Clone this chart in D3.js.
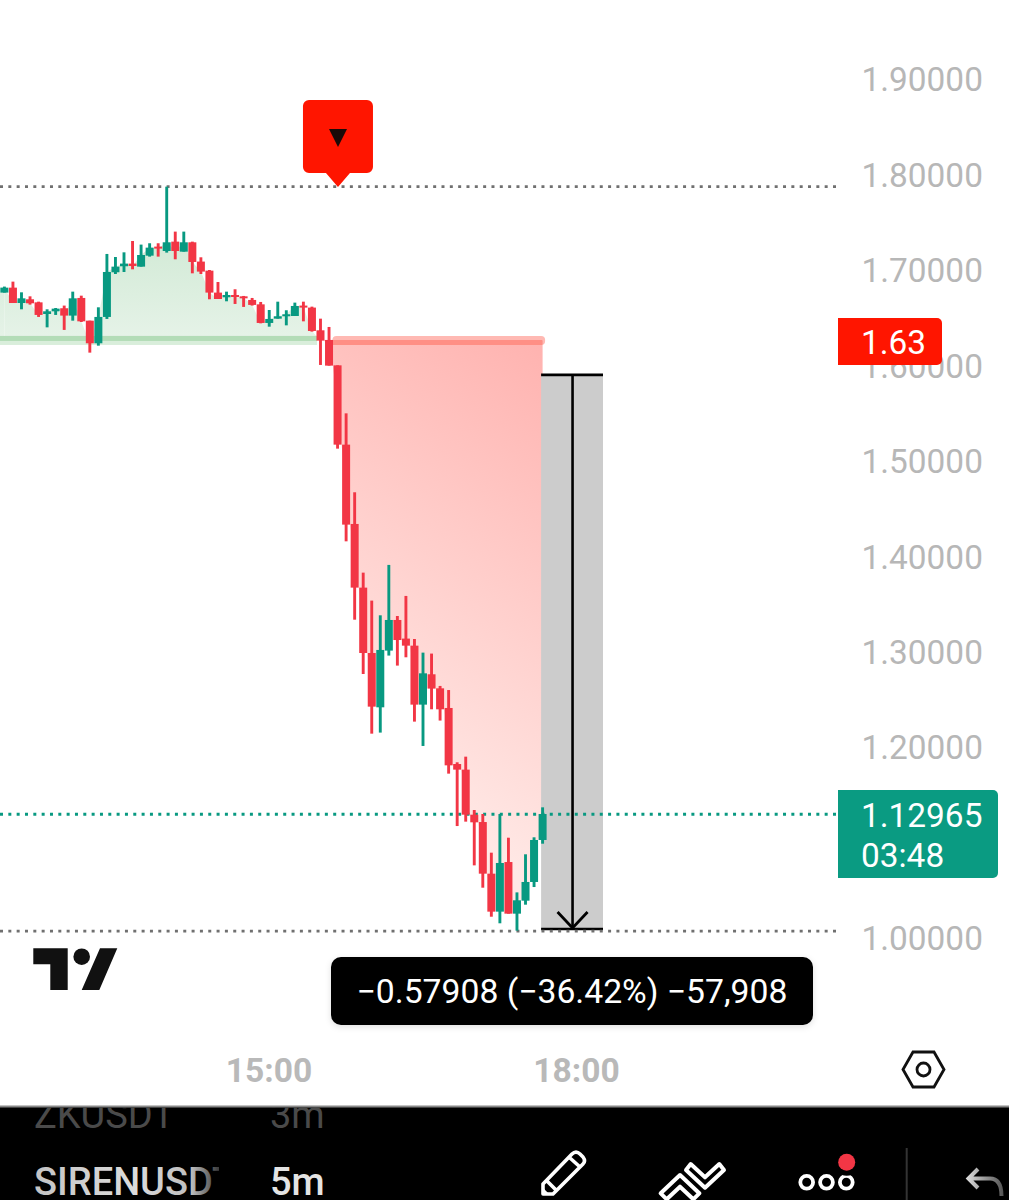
<!DOCTYPE html>
<html><head><meta charset="utf-8">
<script src="https://cdn.jsdelivr.net/npm/d3@7/dist/d3.min.js"></script>
<style>html,body{margin:0;padding:0;background:#fff}svg{display:block}text{font-family:Roboto,sans-serif}</style>
</head><body><svg id="c" width="1009" height="1200"></svg>
<script>
const opens=[1.6762,1.6814,1.6653,1.6692,1.6660,1.6538,1.6566,1.6598,1.6521,1.6706,1.6468,1.6231,1.6507,1.6975,1.7038,1.7066,1.7034,1.7149,1.7244,1.7198,1.7296,1.7191,1.7289,1.7087,1.6992,1.6762,1.6713,1.6737,1.6723,1.6685,1.6639,1.6444,1.6489,1.6514,1.6517,1.6626,1.6605,1.6367,1.6266,1.6000,1.5169,1.4338,1.3671,1.2986,1.2417,1.3011,1.3332,1.3137,1.3063,1.2445,1.2763,1.2616,1.2410,1.1823,1.1764,1.1292,1.1215,1.0674,1.0276,1.0796,1.0255,1.0391,1.0587,1.1027];
const highs=[1.6825,1.6877,1.6765,1.6723,1.6667,1.6587,1.6601,1.6626,1.6772,1.6730,1.6468,1.6608,1.7167,1.7135,1.7184,1.7303,1.7265,1.7279,1.7279,1.7872,1.7401,1.7401,1.7296,1.7132,1.6999,1.6873,1.6772,1.6797,1.6727,1.6706,1.6664,1.6580,1.6667,1.6577,1.6657,1.6667,1.6615,1.6489,1.6402,1.6000,1.5497,1.4670,1.3828,1.3535,1.3381,1.3909,1.3374,1.3584,1.3133,1.2990,1.2980,1.2641,1.2598,1.1841,1.1900,1.1341,1.1299,1.0894,1.1299,1.1051,1.0478,1.0877,1.1055,1.1369];
const lows=[1.6762,1.6653,1.6587,1.6636,1.6507,1.6398,1.6528,1.6371,1.6468,1.6454,1.6133,1.6206,1.6486,1.6957,1.6978,1.7006,1.7034,1.7139,1.7139,1.7181,1.7111,1.7191,1.6964,1.6957,1.6692,1.6695,1.6671,1.6643,1.6612,1.6626,1.6440,1.6405,1.6489,1.6419,1.6517,1.6461,1.6353,1.6004,1.5997,1.5127,1.4156,1.3335,1.2766,1.2141,1.2152,1.2959,1.2854,1.2941,1.2267,1.2012,1.2396,1.2278,1.1722,1.1173,1.1219,1.0761,1.0527,1.0223,1.0154,1.0255,1.0077,1.0349,1.0534,1.0988];
const closes=[1.6814,1.6653,1.6702,1.6650,1.6528,1.6566,1.6594,1.6521,1.6702,1.6461,1.6231,1.6507,1.6978,1.7034,1.7066,1.7041,1.7156,1.7233,1.7223,1.7289,1.7198,1.7289,1.7083,1.6982,1.6762,1.6695,1.6737,1.6716,1.6709,1.6633,1.6444,1.6486,1.6514,1.6535,1.6622,1.6612,1.6360,1.6259,1.5997,1.5169,1.4331,1.3671,1.2986,1.2424,1.3018,1.3332,1.3122,1.3063,1.2445,1.2773,1.2613,1.2396,1.1809,1.1764,1.1292,1.1212,1.0674,1.0276,1.0786,1.0255,1.0395,1.0587,1.1027,1.1299];
const priceTicks=[1.0,1.1,1.2,1.3,1.4,1.5,1.6,1.7,1.8,1.9];
const timeTickBars=[31,67];
const timeTickLabels=["15:00","18:00"];
const baselinePrice=1.6266;
const sessionHigh=1.7872, sessionLow=1.0073, lastPrice=1.12965;
const measureFrom=1.59, measureTo=1.0095;
const signalBar=39;
const signalLabel="1.63";
const countdown="03:48";
const measureText="\u22120.57908 (\u221236.42%) \u221257,908";

const RED="#f23645",GREEN="#089981";
const FS=33.4;
const svg=d3.select("#c");
const x=d3.scaleLinear().domain([0,63]).range([4.4,542.6]);
const y=d3.scaleLinear().domain([1,1.9]).range([938,79]);
const idx=d3.range(closes.length);
const by=y(baselinePrice);
const lastX=x(63);

const defs=svg.append("defs");
const gr=defs.append("linearGradient").attr("id","redFill").attr("gradientUnits","userSpaceOnUse")
  .attr("x1",590).attr("y1",340).attr("x2",310).attr("y2",720);
gr.append("stop").attr("offset",0).attr("stop-color","#ffafac");
gr.append("stop").attr("offset",1).attr("stop-color","#ffe8e5");
const gg=defs.append("linearGradient").attr("id","greenFill").attr("gradientUnits","userSpaceOnUse")
  .attr("x1",0).attr("y1",240).attr("x2",0).attr("y2",340);
gg.append("stop").attr("offset",0).attr("stop-color","#d2ead6");
gg.append("stop").attr("offset",1).attr("stop-color","#e6f3e8");
defs.append("clipPath").attr("id","above").append("rect").attr("x",0).attr("y",0).attr("width",1009).attr("height",by);
defs.append("clipPath").attr("id","below").append("rect").attr("x",0).attr("y",by).attr("width",lastX).attr("height",800);
defs.append("clipPath").attr("id","bar").append("rect").attr("x",0).attr("y",1107).attr("width",1009).attr("height",93);
const fd=defs.append("linearGradient").attr("id","fade").attr("gradientUnits","userSpaceOnUse").attr("x1",35).attr("x2",219).attr("y1",0).attr("y2",0);
fd.append("stop").attr("offset",0).attr("stop-color","#c4c4c4");
fd.append("stop").attr("offset",0.55).attr("stop-color","#dcdcdc");
fd.append("stop").attr("offset",0.85).attr("stop-color","#bdbdbd");
fd.append("stop").attr("offset",1).attr("stop-color","#3a3a3a");
const un=defs.append("linearGradient").attr("id","undo").attr("gradientUnits","userSpaceOnUse").attr("x1",968).attr("x2",1003).attr("y1",0).attr("y2",0);
un.append("stop").attr("offset",0).attr("stop-color","#d8d8d8");
un.append("stop").attr("offset",1).attr("stop-color","#555");
const ds=defs.append("filter").attr("id","sh").attr("x","-5%").attr("y","-20%").attr("width","110%").attr("height","150%");
ds.append("feDropShadow").attr("dx",0).attr("dy",2).attr("stdDeviation",3).attr("flood-color","#000").attr("flood-opacity",0.12);

const area=d3.area().x(i=>x(i)).y0(by).y1(i=>y(closes[i])).curve(d3.curveLinear);
const areaRed=d3.area().x(i=>x(i)+4).y0(by).y1(i=>y(closes[i])).curve(d3.curveLinear);
svg.append("path").attr("d",area(idx)).attr("fill","url(#greenFill)").attr("clip-path","url(#above)");
svg.append("rect").attr("x",0).attr("width",x(0)).attr("y",y(closes[0])).attr("height",by-y(closes[0])).attr("fill","url(#greenFill)");
svg.append("path").attr("d",areaRed(idx)).attr("fill","url(#redFill)").attr("clip-path","url(#below)");
// baseline
const gEnd=x(36.6), rStart=x(38.4);
svg.append("rect").attr("x",0).attr("y",by-4).attr("width",gEnd).attr("height",9).attr("fill","#d9eedb");
svg.append("rect").attr("x",0).attr("y",by-4).attr("width",gEnd).attr("height",5).attr("fill","#b3dcb7");
svg.append("rect").attr("x",rStart).attr("y",by-4).attr("width",lastX+2.5-rStart).attr("height",9).attr("rx",4).attr("fill","#ffb9b3");
svg.append("rect").attr("x",rStart).attr("y",by).attr("width",lastX-rStart).attr("height",5).attr("rx",1).attr("fill","#ff8f85");

// measure tool
const mTop=y(measureFrom),mBot=y(measureTo),mL=lastX-1.5,mR=603,mC=(mL+mR)/2+0.5;
svg.append("rect").attr("x",mL).attr("y",mTop).attr("width",mR-mL).attr("height",mBot-mTop).attr("fill","#cccccc");
[mTop,mBot].forEach(v=>svg.append("line").attr("x1",mL).attr("x2",mR).attr("y1",v).attr("y2",v).attr("stroke","#000").attr("stroke-width",2.6));
svg.append("line").attr("x1",mC).attr("x2",mC).attr("y1",mTop).attr("y2",mBot).attr("stroke","#000").attr("stroke-width",2.6);
svg.append("path").attr("d",`M${mC-15},${mBot-17}L${mC},${mBot-1}L${mC+15},${mBot-17}`).attr("fill","none").attr("stroke","#000").attr("stroke-width",2.8);

// dotted lines
[[sessionHigh,"#707070"],[sessionLow,"#707070"],[lastPrice,GREEN]].forEach(([p,c])=>{
  svg.append("line").attr("x1",0).attr("x2",836).attr("y1",y(p)).attr("y2",y(p))
    .attr("stroke",c).attr("stroke-width",2.8).attr("stroke-dasharray","3 5.33");
});

// candles
const g=svg.append("g");
g.selectAll("line.w").data(idx).join("line").attr("class","w")
  .attr("x1",i=>x(i)).attr("x2",i=>x(i)).attr("y1",i=>y(highs[i])).attr("y2",i=>y(lows[i]))
  .attr("stroke",i=>closes[i]>=opens[i]?GREEN:RED).attr("stroke-width",2.9);
g.selectAll("rect.b").data(idx).join("rect").attr("class","b")
  .attr("x",i=>x(i)-4).attr("width",8)
  .attr("y",i=>y(Math.max(opens[i],closes[i])))
  .attr("height",i=>Math.max(2,Math.abs(y(opens[i])-y(closes[i]))))
  .attr("fill",i=>closes[i]>=opens[i]?GREEN:RED);

// price axis
const ya=d3.axisRight(y).tickValues(priceTicks).tickFormat(d3.format(".5f")).tickSize(0).tickPadding(0);
const yg=svg.append("g").attr("transform","translate(861.5,0)").call(ya);
yg.select(".domain").remove();
yg.selectAll("text").attr("font-size",FS).attr("fill","#b7b7b7").attr("font-family","Roboto").attr("dy","0.355em");

// signal flag
const sx=x(signalBar)+0.4;
svg.append("path").attr("d",`M${sx-35},106a6,6 0 0 1 6,-6h58a6,6 0 0 1 6,6v61a6,6 0 0 1 -6,6h-17l-12,14l-12,-14h-17a6,6 0 0 1 -6,-6z`).attr("fill","#ff1500");
svg.append("path").attr("d",`M${sx-9},129h18l-9,18z`).attr("fill","#1a0a08");

// price labels
svg.append("path").attr("d",`M838,318h99a5,5 0 0 1 5,5v37a5,5 0 0 1 -5,5h-99z`).attr("fill","#ff1500");
svg.append("text").attr("x",861).attr("y",354).attr("font-size",FS).attr("fill","#fff").text(signalLabel);
svg.append("path").attr("d",`M838,790h155a5,5 0 0 1 5,5v78a5,5 0 0 1 -5,5h-155z`).attr("fill","#0a9b82");
svg.append("text").attr("x",861).attr("y",y(lastPrice)+12.5).attr("font-size",FS).attr("fill","#fff").text(d3.format(".5f")(lastPrice));
svg.append("text").attr("x",861).attr("y",867).attr("font-size",FS).attr("fill","#fff").text(countdown);

// logo
svg.append("path").attr("d","M33.3,948.3H67.7V990H50.3V964.3H33.3ZM100,948.3H117.3L99.3,990H81.7Z").attr("fill","#111");
svg.append("circle").attr("cx",81.7).attr("cy",956.7).attr("r",8.3).attr("fill","#111");

// measure tooltip
svg.append("rect").attr("x",331).attr("y",957).attr("width",482).attr("height",68).attr("rx",10).attr("fill","#000").attr("filter","url(#sh)");
svg.append("text").attr("x",572).attr("y",1003).attr("text-anchor","middle").attr("font-size",33.7).attr("fill","#fff").text(measureText);

// time axis
const xa=d3.axisBottom(x).tickValues(timeTickBars).tickFormat((d,i)=>timeTickLabels[i]).tickSize(0).tickPadding(0);
const xg=svg.append("g").attr("transform","translate(-0.8,1070)").call(xa);
xg.select(".domain").remove();
xg.selectAll("text").attr("font-size",33.6).attr("font-weight",700).attr("fill","#b9b9b9").attr("font-family","Roboto").attr("dy","0.355em");

// settings hexagon
svg.append("path").attr("d","M913,1052H934L944,1069.5L934,1087H913L903,1069.5Z").attr("fill","none").attr("stroke","#111").attr("stroke-width",2.8);
svg.append("circle").attr("cx",923.5).attr("cy",1069.5).attr("r",6.5).attr("fill","none").attr("stroke","#111").attr("stroke-width",2.8);

// bottom bar
svg.append("rect").attr("x",0).attr("y",1107).attr("width",1009).attr("height",93).attr("fill","#000");
svg.append("rect").attr("x",0).attr("y",1105.5).attr("width",1009).attr("height",2).attr("fill","#888");
const bar=svg.append("g").attr("clip-path","url(#bar)");
bar.append("text").attr("x",34).attr("y",1127.5).attr("font-size",38).attr("fill","#4a4a4a").text("ZKUSDT");
bar.append("text").attr("x",270).attr("y",1127.5).attr("font-size",38).attr("fill","#4a4a4a").text("3m");
bar.append("text").attr("x",34).attr("y",1194.5).attr("font-size",38).attr("font-weight",500).attr("fill","url(#fade)").text("SIRENUSDT");
bar.append("rect").attr("x",219).attr("y",1165).attr("width",40).attr("height",35).attr("fill","#000");
bar.append("text").attr("x",270).attr("y",1194.5).attr("font-size",38).attr("font-weight",500).attr("fill","#e4e4e4").text("5m");
// pencil
bar.append("path").attr("d","M543,1184L572,1154Q576,1150 580,1154L583,1157Q586,1161 583,1164L553,1194H543ZM570,1158L580,1167M547,1181L557,1191").attr("fill","none").attr("stroke","#fff").attr("stroke-width",3.6).attr("stroke-linejoin","round");
bar.append("path").attr("d","M542,1195V1186.7L550,1195Z").attr("fill","#fff");
// chevrons
bar.append("path").attr("d","M686,1170L690.7,1164L705,1177.3L719.3,1164L724,1170L705,1187.7Z").attr("fill","none").attr("stroke","#fff").attr("stroke-width",4).attr("stroke-linejoin","round");
bar.append("path").attr("d","M660.7,1193.3L680,1175L699.3,1193.3L693.3,1199.3L680,1186.7L666.7,1199.3Z").attr("fill","none").attr("stroke","#fff").attr("stroke-width",4).attr("stroke-linejoin","round");
// dots
[806.7,826.5,846.3].forEach(cx=>bar.append("circle").attr("cx",cx).attr("cy",1182.3).attr("r",6.4).attr("fill","none").attr("stroke","#fff").attr("stroke-width",3.8));
bar.append("circle").attr("cx",846.7).attr("cy",1162.3).attr("r",13.5).attr("fill","#000");
bar.append("circle").attr("cx",846.7).attr("cy",1162.3).attr("r",8.5).attr("fill","#f23645");
// separator and undo
bar.append("line").attr("x1",906.7).attr("x2",906.7).attr("y1",1148).attr("y2",1200).attr("stroke","#333").attr("stroke-width",2);
bar.append("path").attr("d","M978,1169L968.5,1178.5L978,1188M968.5,1178.5H990Q1001.5,1178.5 1001.5,1196").attr("fill","none").attr("stroke","url(#undo)").attr("stroke-width",4);
</script></body></html>
